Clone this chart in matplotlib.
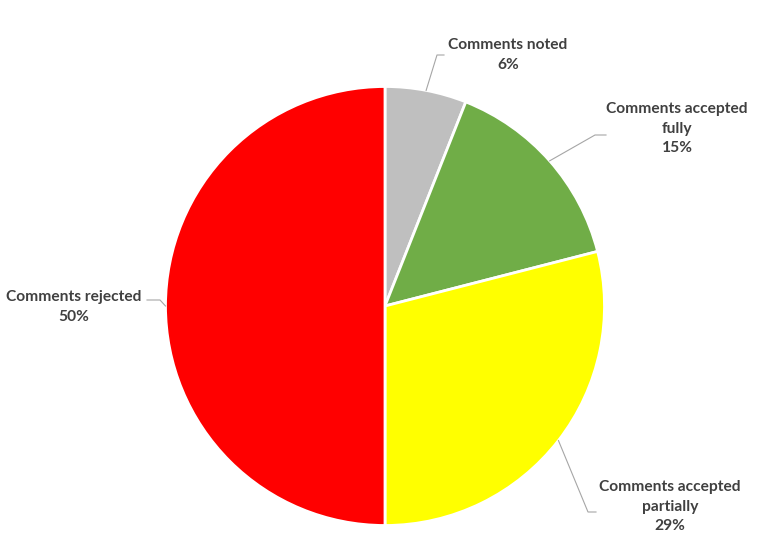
import numpy as np
import matplotlib
matplotlib.use("Agg")
import matplotlib.pyplot as plt

# data (clockwise from 12 o'clock)
labels = ['Comments noted', 'Comments accepted\nfully', 'Comments accepted\npartially', 'Comments rejected']
shares = [6, 15, 29, 50]
colours = ['#BFBFBF', '#70AD47', '#FFFF00', '#FF0000']

# label placement in pixel coords (x, y from top) and leader elbow / end points
label_xy = [(508, 55), (677, 129), (670, 507), (74, 307)]
elbows = [(437, 55), (595, 135), (588, 512), (160, 300)]
ends = [(444, 55), (606, 135), (596, 512), (147, 300)]

W, H = 765, 549
fig = plt.figure(figsize=(W / 100, H / 100), dpi=100)
ax = fig.add_axes([0, 0, 1, 1])

cx, cy, r = 385, H - 306, 219.5
wedges, _ = ax.pie(shares, colors=colours, startangle=90, counterclock=False,
                   center=(cx, cy), radius=r,
                   wedgeprops=dict(edgecolor='white', linewidth=2))
ax.set_xlim(0, W)
ax.set_ylim(0, H)
ax.set_aspect('equal')
ax.axis('off')

txtcol = '#404040'
for w, lab, val, (tx, ty), (ex, ey), (fx, fy) in zip(wedges, labels, shares, label_xy, elbows, ends):
    ang = np.deg2rad((w.theta1 + w.theta2) / 2)
    px, py = cx + r * np.cos(ang), cy + r * np.sin(ang)
    ax.plot([px, ex, fx], [py, H - ey, H - fy], color='#A6A6A6', lw=0.8)
    ax.text(tx, H - ty, f'{lab}\n{val}%', ha='center', va='center',
            fontsize=11.2, fontweight='bold', color=txtcol, family='Lato',
            linespacing=1.5)

fig.savefig('out.png', dpi=100)
